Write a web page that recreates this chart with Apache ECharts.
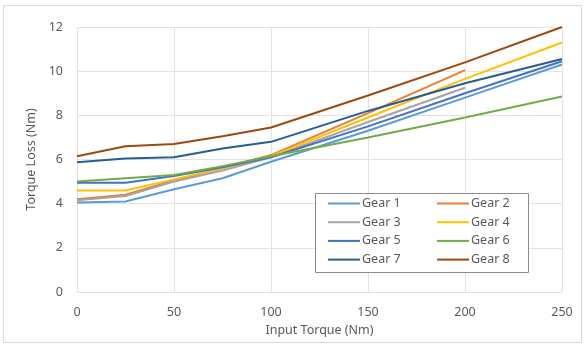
<!DOCTYPE html>
<html>
<head>
<meta charset="utf-8">
<script src="https://cdn.jsdelivr.net/npm/echarts@6/dist/echarts.min.js"></script>
<style>
html,body{margin:0;padding:0;background:#fff;}
#c{width:584px;height:345px;}
</style>
</head>
<body>
<div id="c"></div>
<script>
const xValues = [0, 25, 50, 75, 100, 150, 200, 250];
const seriesNames = ['Gear 1','Gear 2','Gear 3','Gear 4','Gear 5','Gear 6','Gear 7','Gear 8'];
const gear1 = [4.05, 4.1, 4.65, 5.15, 5.9, 7.3, 8.8, 10.3];
const gear2 = [4.2, 4.4, 5.05, 5.6, 6.2, 8.1, 10.05, null];
const gear3 = [4.15, 4.35, 5.0, 5.5, 6.1, 7.7, 9.25, null];
const gear4 = [4.6, 4.6, 5.1, 5.6, 6.15, 7.9, 9.65, 11.3];
const gear5 = [4.95, 4.95, 5.25, 5.65, 6.1, 7.5, 9.0, 10.45];
const gear6 = [5.0, 5.15, 5.3, 5.7, 6.15, 7.0, 7.9, 8.85];
const gear7 = [5.88, 6.05, 6.1, 6.5, 6.8, 8.2, 9.45, 10.55];
const gear8 = [6.15, 6.6, 6.7, 7.05, 7.45, 8.9, 10.4, 12.0];
const allData = [gear1, gear2, gear3, gear4, gear5, gear6, gear7, gear8];
const colors = ['#5B9BD5','#ED7D31','#A5A5A5','#FFC000','#4472C4','#70AD47','#255E91','#9E480E'];

const font = 'Noto Sans';
const chart = echarts.init(document.getElementById('c'), null, {renderer:'canvas'});
const series = seriesNames.map((n, i) => ({
  name: n,
  type: 'line',
  showSymbol: false,
  symbol: 'none',
  lineStyle: {width: 2, color: colors[i]},
  itemStyle: {color: colors[i]},
  data: xValues.map((x, j) => allData[i][j] == null ? null : [x, allData[i][j]]),
  z: 2 + i
}));
const legendCommon = {
  orient: 'vertical',
  icon: 'rect',
  itemWidth: 32,
  itemHeight: 2,
  itemGap: 5.7,
  textStyle: {fontFamily: font, fontSize: 12.5, color: '#595959', padding: [0,0,0,-3]},
  selectedMode: false,
  padding: 0,
  z: 20
};
chart.setOption({
  animation: false,
  backgroundColor: '#fff',
  grid: {left: 77, right: 22, top: 27, bottom: 53, containLabel: false},
  xAxis: {
    type: 'value', min: 0, max: 250, interval: 50,
    name: 'Input Torque (Nm)', nameLocation: 'middle', nameGap: 30,
    nameTextStyle: {fontFamily: font, fontSize: 12.5, color: '#595959'},
    axisLine: {show: false}, axisTick: {show: false},
    axisLabel: {fontFamily: font, fontSize: 12.5, color: '#595959', margin: 14},
    splitLine: {show: true, lineStyle: {color: '#e3e3e3', width: 1}}
  },
  yAxis: {
    type: 'value', min: 0, max: 12, interval: 2,
    name: 'Torque Loss (Nm)', nameLocation: 'middle', nameGap: 38, nameRotate: 90,
    nameTextStyle: {fontFamily: font, fontSize: 12.5, color: '#595959'},
    axisLine: {show: false}, axisTick: {show: false},
    axisLabel: {fontFamily: font, fontSize: 12.5, color: '#595959', margin: 14},
    splitLine: {show: true, lineStyle: {color: '#e3e3e3', width: 1}}
  },
  legend: [
    Object.assign({}, legendCommon, {left: 328, top: 197, data: ['Gear 1','Gear 3','Gear 5','Gear 7']}),
    Object.assign({}, legendCommon, {left: 437, top: 197, data: ['Gear 2','Gear 4','Gear 6','Gear 8']})
  ],
  graphic: [
    {type: 'rect', shape: {x: 3.5, y: 5.5, width: 578, height: 337}, style: {fill: null, stroke: '#d9d9d9', lineWidth: 1}, z: -10, silent: true},
    {type: 'rect', shape: {x: 315.5, y: 193.5, width: 213, height: 79}, style: {fill: '#fff', stroke: '#8c8c8c', lineWidth: 1}, z: 15, silent: true}
  ],
  series: series
});
</script>
</body>
</html>
